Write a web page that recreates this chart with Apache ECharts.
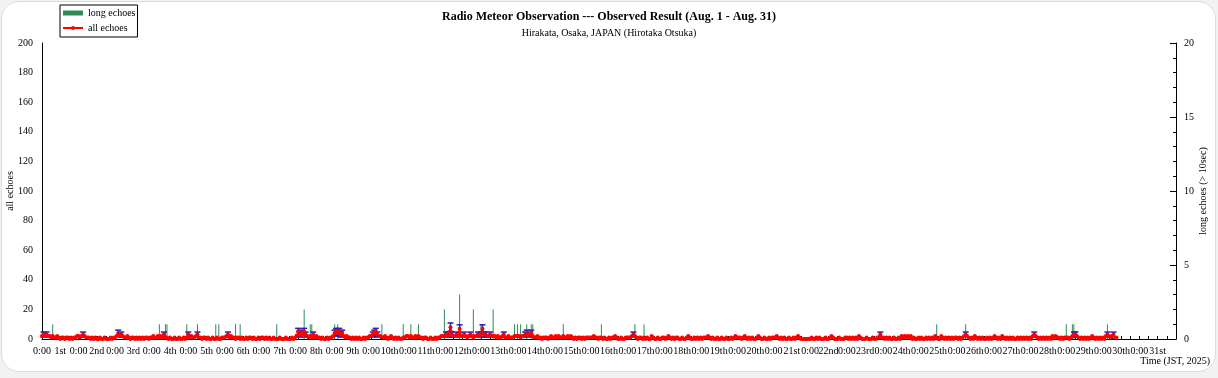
<!DOCTYPE html>
<html>
<head>
<meta charset="utf-8">
<title>Radio Meteor Observation</title>
<script src="https://cdn.jsdelivr.net/npm/echarts@6/dist/echarts.min.js"></script>
<style>
  html, body { margin: 0; padding: 0; background: #f2f2f2; }
  #card {
    position: absolute; left: 1px; top: 1px; width: 1213px; height: 369px;
    background: #fff; border: 1px solid #dcdcdc; border-radius: 18px;
  }
  #main { position: absolute; left: 0; top: 0; width: 1218px; height: 378px; }
</style>
</head>
<body>
<div id="card"></div>
<div id="main"></div>
<script>
// x labels: "0:00" at each midnight, day name at each noon
const dayLabels = ['1st', '2nd', '3rd', '4th', '5th', '6th', '7th', '8th', '9th', '10th',
  '11th', '12th', '13th', '14th', '15th', '16th', '17th', '18th', '19th', '20th',
  '21st', '22nd', '23rd', '24th', '25th', '26th', '27th', '28th', '29th', '30th', '31st'];

// hourly counts of all echoes, from Aug 1 0:00 (one line per day)
const allEchoes = [
  2,3,2,3,2,2,1,2,1,1,2,1,0,1,1,0,1,1,0,1,0,1,1,2,   // 1st
  2,1,2,3,2,1,1,1,0,1,0,1,0,0,1,0,0,1,0,0,0,1,0,1,   // 2nd
  1,2,4,2,3,2,1,1,2,1,0,1,1,0,1,0,1,0,1,0,1,1,0,1,   // 3rd
  1,2,1,1,2,1,2,1,3,1,1,0,1,0,0,1,0,0,1,0,0,1,0,1,   // 4th
  3,1,2,1,1,2,3,1,1,0,1,1,0,1,0,0,1,0,0,1,0,0,1,1,   // 5th
  1,2,3,1,2,1,1,0,1,1,0,1,0,0,1,0,1,1,0,1,0,0,1,0,   // 6th
  1,1,0,1,0,1,0,0,1,0,0,0,1,0,0,0,1,0,0,0,1,0,1,2,   // 7th
  5,3,4,2,5,3,2,1,2,1,3,1,2,1,1,0,1,0,0,1,0,1,1,2,   // 8th
  4,5,4,5,3,4,2,1,2,1,1,0,1,0,1,0,1,0,0,1,0,1,1,2,   // 9th
  2,3,4,5,3,2,2,1,1,2,1,0,1,2,1,0,1,0,1,0,0,1,1,2,   // 10th
  2,1,2,1,1,2,1,2,1,1,0,1,1,0,0,1,0,0,1,0,1,1,2,2,   // 11th
  2,3,2,3,8,3,2,2,3,2,7,2,2,3,2,1,2,3,2,1,2,2,3,2,   // 12th
  3,7,3,3,2,2,3,2,2,2,1,2,1,1,2,3,1,1,2,1,1,1,2,2,   // 13th
  2,2,1,2,2,3,4,2,3,4,2,1,1,2,1,1,0,1,1,1,0,1,2,1,   // 14th
  1,2,1,2,1,1,2,1,1,2,1,2,1,0,1,0,1,1,0,1,0,1,1,1,   // 15th
  1,1,2,1,1,0,1,1,0,1,0,0,1,0,1,1,2,1,0,0,1,0,0,1,   // 16th
  1,1,1,2,3,2,1,0,1,1,0,1,0,1,0,0,2,1,0,0,1,0,0,1,   // 17th
  1,0,1,2,1,0,1,0,1,1,0,0,1,0,0,1,2,1,0,0,1,0,1,0,   // 18th
  1,0,1,1,1,2,1,0,1,0,0,1,0,0,1,0,0,1,0,0,1,0,1,2,   // 19th
  1,1,1,0,1,2,1,0,1,0,1,0,0,1,2,1,0,0,1,0,0,1,0,1,   // 20th
  1,1,2,1,0,1,0,1,0,0,1,0,0,1,0,1,2,1,0,0,0,0,0,0,   // 21st
  0,1,0,0,1,0,1,0,0,0,1,0,0,1,2,1,0,0,0,1,0,0,0,1,   // 22nd
  1,0,1,0,1,0,1,0,2,1,0,0,0,1,0,0,0,1,0,0,1,1,3,1,   // 23rd
  1,0,1,0,1,0,0,1,0,0,1,0,2,1,2,1,2,1,2,0,1,0,0,1,   // 24th
  0,1,0,0,1,0,1,0,1,0,2,1,0,0,2,1,0,1,0,1,0,1,0,1,   // 25th
  1,0,1,0,1,2,3,2,1,0,1,0,2,1,0,1,0,1,0,0,1,0,1,0,   // 26th
  1,2,1,0,1,0,2,1,0,1,0,1,0,1,0,0,1,0,1,0,1,0,1,0,   // 27th
  1,0,2,3,2,1,0,1,0,1,0,1,0,1,0,2,1,2,1,1,0,1,0,1,   // 28th
  1,1,0,1,2,3,3,2,1,0,1,0,1,0,1,0,1,2,1,0,1,0,1,0,   // 29th
  1,0,2,3,2,1,2,3,1,1                                // 30th (data ends)
];

// error bars on all echoes: [hour, low, high]
const errorBars = [
  [1, 1.3, 4.7], [3, 1.3, 4.7], [27, 1.3, 4.7], [50, 2, 6], [52, 1.3, 4.7],
  [80, 1.3, 4.7], [96, 1.3, 4.7], [102, 1.3, 4.7], [122, 1.3, 4.7],
  [168, 2.8, 7.2], [169, 1.3, 4.7], [170, 2, 6], [172, 2.8, 7.2], [173, 1.3, 4.7], [178, 1.3, 4.7],
  [192, 2, 6], [193, 2.8, 7.2], [194, 2, 6], [195, 2.8, 7.2], [196, 1.3, 4.7], [197, 2, 6],
  [217, 1.3, 4.7], [218, 2, 6], [219, 2.8, 7.2], [220, 1.3, 4.7],
  [265, 1.3, 4.7], [267, 1.3, 4.7], [268, 5.2, 10.8], [269, 1.3, 4.7], [272, 1.3, 4.7],
  [274, 4.4, 9.6], [277, 1.3, 4.7], [281, 1.3, 4.7], [286, 1.3, 4.7],
  [288, 1.3, 4.7], [289, 4.4, 9.6], [290, 1.3, 4.7], [291, 1.3, 4.7], [294, 1.3, 4.7], [303, 1.3, 4.7],
  [317, 1.3, 4.7], [318, 2, 6], [320, 1.3, 4.7], [321, 2, 6],
  [388, 1.3, 4.7], [550, 1.3, 4.7], [606, 1.3, 4.7], [651, 1.3, 4.7],
  [677, 1.3, 4.7], [678, 1.3, 4.7], [699, 1.3, 4.7], [703, 1.3, 4.7]
];

// long echoes (> 10 sec): [hour, count]
const longEchoes = [
  [7, 1], [77, 1], [81, 1], [82, 1], [95, 1], [102, 1], [114, 1], [116, 1], [127, 1], [130, 1],
  [154, 1], [172, 2], [176, 1], [177, 1], [192, 1], [194, 1], [223, 1], [237, 1], [242, 1], [247, 1],
  [264, 2], [274, 3], [283, 2], [288, 1], [296, 2], [310, 1], [312, 1], [314, 1], [318, 1], [321, 1],
  [322, 1], [342, 1], [367, 1], [389, 1], [395, 1], [587, 1], [606, 1], [672, 1], [676, 1], [677, 1],
  [699, 1]
];

const HOURS = 744;
const font = 'Liberation Serif';

const chart = echarts.init(document.getElementById('main'));

const option = {
  backgroundColor: 'transparent',
  textStyle: { fontFamily: font, color: '#000' },
  animation: false,
  title: {
    text: 'Radio Meteor Observation --- Observed Result (Aug. 1 - Aug. 31)',
    subtext: 'Hirakata, Osaka, JAPAN (Hirotaka Otsuka)',
    left: 'center',
    top: 11,
    padding: 0,
    itemGap: 5,
    textStyle: { fontFamily: font, fontSize: 12, fontWeight: 'bold', color: '#000' },
    subtextStyle: { fontFamily: font, fontSize: 10, color: '#000' }
  },
  legend: {
    left: 60,
    top: 5,
    orient: 'vertical',
    borderColor: '#000',
    borderWidth: 1,
    borderRadius: 0,
    padding: [3, 2, 4, 2],
    itemGap: 5,
    itemWidth: 20,
    itemHeight: 5,
    textStyle: { fontFamily: font, fontSize: 10, color: '#000' },
    data: [
      { name: 'long echoes', icon: 'rect' },
      { name: 'all echoes' }
    ]
  },
  grid: { left: 42, right: 42, top: 43, bottom: 39, outerBoundsMode: 'none', containLabel: false },
  xAxis: {
    type: 'value',
    min: 0,
    max: HOURS,
    interval: 12,
    name: 'Time (JST, 2025)',
    nameLocation: 'end',
    nameGap: 34,
    nameTextStyle: { fontFamily: font, fontSize: 10, color: '#000', align: 'right', verticalAlign: 'top', padding: [17, 0, 0, 0] },
    axisLine: { lineStyle: { color: '#000', width: 1 } },
    axisTick: { inside: true, length: 3, lineStyle: { color: '#000' } },
    minorTick: { show: true, splitNumber: 2, length: 3, lineStyle: { color: '#000' } },
    splitLine: { show: false },
    axisLabel: {
      margin: 7,
      fontFamily: font,
      fontSize: 10,
      color: '#000',
      hideOverlap: false,
      formatter: function (v) {
        if (v >= HOURS) return '';
        if (v % 24 === 0) return '0:00';
        return dayLabels[(v - 12) / 24];
      }
    }
  },
  yAxis: [
    {
      type: 'value',
      min: 0,
      max: 200,
      interval: 20,
      name: 'all echoes',
      nameLocation: 'middle',
      nameRotate: 90,
      nameGap: 27,
      nameMoveOverlap: false,
      nameTextStyle: { fontFamily: font, fontSize: 10, color: '#000' },
      axisLine: { show: true, lineStyle: { color: '#000' } },
      axisTick: { show: false },
      splitLine: { show: false },
      axisLabel: { margin: 9, fontFamily: font, fontSize: 10, color: '#000' }
    },
    {
      type: 'value',
      min: 0,
      max: 20,
      interval: 5,
      position: 'right',
      name: 'long echoes (> 10sec)',
      nameLocation: 'middle',
      nameRotate: 90,
      nameGap: 22,
      nameMoveOverlap: false,
      nameTextStyle: { fontFamily: font, fontSize: 10, color: '#000' },
      axisLine: { show: true, lineStyle: { color: '#000' } },
      axisTick: { show: true, inside: true, length: 6, lineStyle: { color: '#000' } },
      minorTick: { show: true, splitNumber: 5, length: 3, lineStyle: { color: '#000' } },
      splitLine: { show: false },
      axisLabel: { margin: 8, fontFamily: font, fontSize: 10, color: '#000' }
    }
  ],
  series: [
    {
      name: 'long echoes',
      type: 'bar',
      yAxisIndex: 1,
      barWidth: 1,
      itemStyle: { color: '#2e8b57' },
      z: 1,
      data: longEchoes
    },
    {
      name: 'error',
      type: 'custom',
      yAxisIndex: 0,
      z: 2,
      encode: { x: 0, y: [1, 2] },
      renderItem: function (params, api) {
        const h = api.value(0);
        const lo = api.coord([h, api.value(1)]);
        const hi = api.coord([h, api.value(2)]);
        const w = 3;
        const st = { stroke: '#2222bb', lineWidth: 1.5 };
        return {
          type: 'group',
          children: [
            { type: 'line', shape: { x1: lo[0], y1: lo[1], x2: hi[0], y2: hi[1] }, style: st },
            { type: 'line', shape: { x1: hi[0] - w, y1: hi[1], x2: hi[0] + w, y2: hi[1] }, style: st },
            { type: 'line', shape: { x1: lo[0] - w, y1: lo[1], x2: lo[0] + w, y2: lo[1] }, style: st }
          ]
        };
      },
      data: errorBars
    },
    {
      name: 'all echoes',
      type: 'line',
      yAxisIndex: 0,
      z: 3,
      symbol: 'circle',
      symbolSize: 4,
      showAllSymbol: true,
      lineStyle: { color: '#ff0000', width: 1.5 },
      itemStyle: { color: '#ff0000' },
      data: allEchoes.map((v, i) => [i, v])
    }
  ]
};

chart.setOption(option);
</script>
</body>
</html>
